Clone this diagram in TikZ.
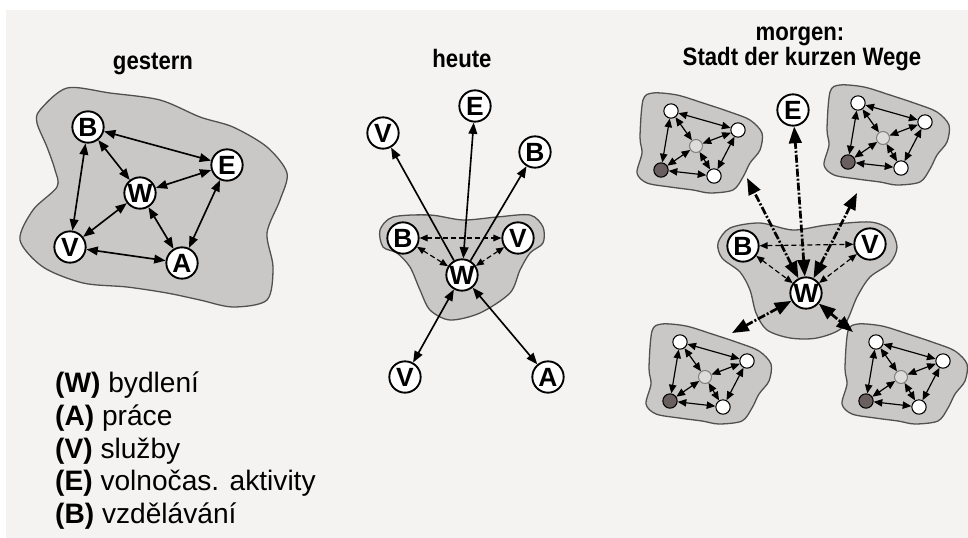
\documentclass[tikz,border=0pt]{standalone}
\usepackage{fontspec}
\setmainfont{Liberation Sans}
\newfontfamily\titlefont{Liberation Sans}[FakeStretch=0.88]
\usetikzlibrary{arrows.meta}
\definecolor{bgc}{RGB}{244,243,241}
\definecolor{blobc}{RGB}{202,200,198}
\definecolor{blobline}{RGB}{80,80,80}
\definecolor{darkn}{RGB}{105,95,95}
\definecolor{midn}{RGB}{222,220,218}
\tikzset{
  bnode/.style={circle,draw,fill=white,line width=1.6pt,minimum size=9.4mm,inner sep=0pt,
    font=\bfseries\fontsize{22.5}{22.5}\selectfont},
  blob/.style={fill=blobc,draw=blobline,line width=1.1pt},
  arr/.style={line width=1.4pt,{Triangle[length=3.4mm,width=2.6mm]}-{Triangle[length=3.4mm,width=2.6mm]}},
  arrto/.style={line width=1.4pt,-{Triangle[length=3.4mm,width=2.6mm]}},
  darr/.style={line width=1pt,dash pattern=on 1.5mm off 0.9mm,
    {Triangle[length=2.4mm,width=2mm]}-{Triangle[length=2.4mm,width=2mm]}},
  bigarr/.style={line width=2.3pt,dash pattern=on 2.4mm off 0.6mm on 0.6mm off 0.6mm,
    {Triangle[length=5mm,width=3.8mm]}-{Triangle[length=5mm,width=3.8mm]}},
  snode/.style={circle,draw,fill=white,line width=0.9pt,minimum size=4.3mm,inner sep=0pt},
  sarr/.style={line width=1pt,{Triangle[length=2.6mm,width=2.2mm]}-{Triangle[length=2.6mm,width=2.2mm]}},
  ttl/.style={anchor=base,font=\titlefont\bfseries\fontsize{21.5}{21.5}\selectfont},
  leg/.style={anchor=base west,inner sep=0pt,font=\fontsize{24}{28}\selectfont},
}
\newcommand{\mycluster}[3]{%
  \begin{scope}[shift={(#2,#3)}]
    \draw[blob] plot[smooth cycle] coordinates {(-56,-9) (-53,-46) (-43,-53) (-19,-51) (7,-43)
      (34,-34) (54,-26) (66,-13) (64,4) (54,17) (47,31) (37,44) (14,47) (-3,44) (-26,41)
      (-49,37) (-59,27) (-54,7)};
    \node[snode] (#1t) at (-25,-35) {};
    \node[snode] (#1r) at (42,-16) {};
    \node[snode,fill=midn,draw=gray,minimum size=3.9mm] (#1c) at (0,0) {};
    \node[snode,fill=darkn] (#1d) at (-35,24) {};
    \node[snode] (#1b) at (18,30) {};
    \draw[sarr] (#1t) -- (#1r);
    \draw[sarr] (#1t) -- (#1d);
    \draw[sarr] (#1t) -- (#1c);
    \draw[sarr] (#1r) -- (#1c);
    \draw[sarr] (#1r) -- (#1b);
    \draw[sarr] (#1d) -- (#1c);
    \draw[sarr] (#1d) -- (#1b);
    \draw[sarr] (#1c) -- (#1b);
  \end{scope}}
\begin{document}
\begin{tikzpicture}[x=0.3mm,y=-0.3mm]
\useasboundingbox (0,0) rectangle (968,538);
\fill[white] (0,0) rectangle (968,538);
\fill[bgc] (6,10) rectangle (968,538);

% ---------- gestern ----------
\node[ttl] (t1) at (153,69) {gestern};
\draw[blob] plot[smooth cycle] coordinates {(40,110) (67,88) (110,93) (160,100) (200,117)
  (233,127) (267,147) (287,173) (280,200) (267,233) (273,267) (267,300) (233,307) (200,300)
  (167,293) (127,287) (83,283) (43,267) (20,240) (33,210) (57,187) (55,170) (47,147) (37,123)};
\node[bnode] (gB) at (88,127) {B};
\node[bnode] (gE) at (227,165) {E};
\node[bnode] (gW) at (140,193) {W};
\node[bnode] (gV) at (70,247) {V};
\node[bnode] (gA) at (182,263) {A};
\draw[arr] (gB) -- (gE);
\draw[arr] (gB) -- (gW);
\draw[arr] (gB) -- (gV);
\draw[arr] (gW) -- (gE);
\draw[arr] (gW) -- (gV);
\draw[arr] (gW) -- (gA);
\draw[arr] (gE) -- (gA);
\draw[arr] (gV) -- (gA);

% ---------- heute ----------
\node[ttl] (t2) at (462,67) {heute};
\draw[blob] plot[smooth cycle] coordinates {(380,230) (393,217) (430,215) (463,220) (497,217)
  (530,215) (543,227) (543,243) (530,253) (520,270) (510,293) (480,313) (450,320) (430,310)
  (420,290) (410,267) (397,253) (383,247)};
\node[bnode] (hE) at (475,106) {E};
\node[bnode] (hVt) at (383,133) {V};
\node[bnode] (hBt) at (535,152) {B};
\node[bnode] (hBi) at (403,238) {B};
\node[bnode] (hVi) at (518,238) {V};
\node[bnode] (hW) at (462,275) {W};
\node[bnode] (hVb) at (405,377) {V};
\node[bnode] (hA) at (548,377) {A};
\draw[arrto] (hW) -- (hVt);
\draw[arr] (hW) -- (hE);
\draw[arrto] (hW) -- (hBt);
\draw[darr] (hBi) -- (hVi);
\draw[darr] (hBi) -- (hW);
\draw[darr] (hVi) -- (hW);
\draw[arr] (hW) -- (hVb);
\draw[arr] (hW) -- (hA);

% ---------- morgen ----------
\node[ttl] (t3a) at (800,40) {morgen:};
\node[ttl] (t3b) at (802,65) {Stadt der kurzen Wege};
\draw[blob] plot[smooth cycle] coordinates {(718,243) (730,228) (760,223) (793,230) (827,225)
  (870,222) (890,230) (897,247) (890,263) (870,277) (857,297) (843,327) (817,338) (790,338)
  (767,330) (756,313) (750,290) (740,272) (722,258)};
\mycluster{tl}{696}{146}
\mycluster{tr}{883}{138}
\mycluster{bl}{705}{377}
\mycluster{br}{901}{377}
\node[bnode] (mE) at (793,110) {E};
\node[bnode] (mB) at (743,246) {B};
\node[bnode] (mV) at (870,244) {V};
\node[bnode] (mW) at (806,293) {W};
\coordinate (tlend) at (747,178);
\coordinate (trend) at (857,193);
\coordinate (blend) at (732,333);
\coordinate (brend) at (853,332);
\draw[bigarr] (mW) -- (mE);
\draw[bigarr] (mW) -- (tlend);
\draw[bigarr] (mW) -- (trend);
\draw[bigarr] (mW) -- (blend);
\draw[bigarr] (mW) -- (brend);
\draw[darr] (mB) -- (mV);
\draw[darr] (mB) -- (mW);
\draw[darr] (mV) -- (mW);

% ---------- legend ----------
\node[leg] (l1) at (55,392) {\textbf{(W)} bydlení};
\node[leg] (l2) at (55,425) {\textbf{(A)} práce};
\node[leg] (l3) at (55,458) {\textbf{(V)} služby};
\node[leg] (l4) at (55,490) {\textbf{(E)} volnočas. aktivity};
\node[leg] (l5) at (55,523) {\textbf{(B)} vzdělávání};
\end{tikzpicture}
\end{document}
